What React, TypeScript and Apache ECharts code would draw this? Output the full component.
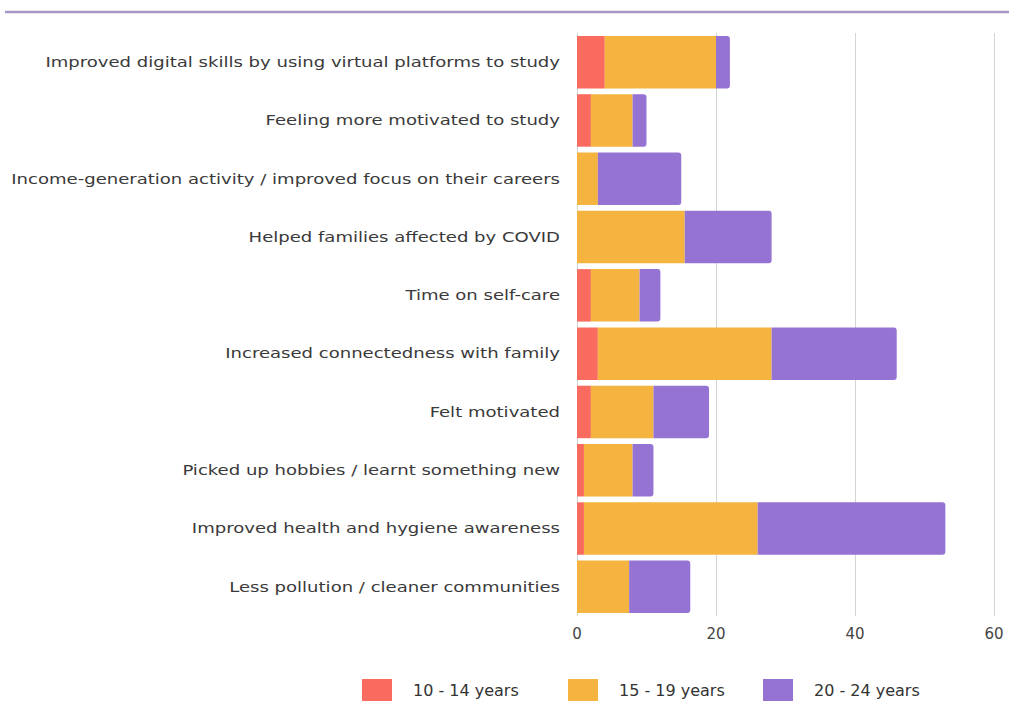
import React, { useEffect, useRef } from "react";
import * as echarts from "echarts";

const categories = [
  "Improved digital skills by using virtual platforms to study",
  "Feeling more motivated to study",
  "Income-generation activity / improved focus on their careers",
  "Helped families affected by COVID",
  "Time on self-care",
  "Increased connectedness with family",
  "Felt motivated",
  "Picked up hobbies / learnt something new",
  "Improved health and hygiene awareness",
  "Less pollution / cleaner communities",
];
const age10to14 = [4, 2, 0, 0, 2, 3, 2, 1, 1, 0];
const age15to19 = [16, 6, 3, 15.5, 7, 25, 9, 7, 25, 7.5];
const age20to24 = [2, 2, 12, 12.5, 3, 18, 8, 3, 27, 8.8];
const seriesNames = ["10 - 14 years", "15 - 19 years", "20 - 24 years"];
const xTicks = [0, 20, 40, 60];

const COLORS = ["#f96a5f", "#f4b43f", "#9473d3"];
const FONT = "DejaVu Sans";
const LEGEND_LEFT = [362, 568, 763];

export default function App() {
  const ref = useRef<HTMLDivElement>(null);
  useEffect(() => {
    if (!ref.current) return;
    const chart = echarts.init(ref.current, undefined, { renderer: "svg" });
    const data = [age10to14, age15to19, age20to24];
    const topLine = {
      type: "line",
      shape: { x1: 5, y1: 12, x2: 1009, y2: 12 },
      style: { stroke: "#a497c8", lineWidth: 2.5 },
    };
    chart.setOption({
      animation: false,
      backgroundColor: "#ffffff",
      textStyle: { fontFamily: FONT },
      graphic: [topLine],
      grid: { left: 577, right: 15, top: 33, bottom: 86 },
      legend: seriesNames.map((n, i) => ({
        left: LEGEND_LEFT[i],
        top: 679,
        padding: 0,
        itemWidth: 30,
        itemHeight: 22,
        icon: "rect",
        data: [n],
        textStyle: {
          fontFamily: FONT,
          fontSize: 16,
          color: "#333",
          padding: [0, 0, 0, 16],
        },
      })),
      xAxis: {
        type: "value",
        min: xTicks[0],
        max: xTicks[xTicks.length - 1],
        interval: 20,
        axisLine: { show: false },
        axisTick: { show: false },
        axisLabel: { color: "#444", fontSize: 15, margin: 10, fontFamily: FONT },
        splitLine: { show: true, lineStyle: { color: "#d4d4d4", width: 1 } },
      },
      yAxis: {
        type: "category",
        data: categories,
        inverse: true,
        axisLine: { show: false },
        axisTick: { show: false },
        axisLabel: { show: false },
      },
      series: seriesNames.map((name, i) => ({
        name,
        type: "bar",
        stack: "total",
        barCategoryGap: "10%",
        itemStyle: {
          color: COLORS[i],
          borderRadius: i === 2 ? [0, 3, 3, 0] : 0,
        },
        data: data[i],
      })),
    });
    // category labels in a wide face, placed through the axis scale
    const x0 = chart.convertToPixel({ xAxisIndex: 0 }, 0) as number;
    const labels = categories.map((c) => {
      const y = chart.convertToPixel({ yAxisIndex: 0 }, c) as number;
      return {
        type: "text",
        x: x0 - 17,
        y,
        scaleX: 1.29,
        style: {
          text: c,
          align: "right",
          verticalAlign: "middle",
          fontFamily: FONT,
          fontSize: 14,
          fill: "#3a3a3a",
        },
      };
    });
    chart.setOption({ graphic: [topLine, ...labels] });
    return () => chart.dispose();
  }, []);
  return (
    <div
      ref={ref}
      style={{ position: "fixed", left: 0, top: 0, width: 1009, height: 702 }}
    />
  );
}
